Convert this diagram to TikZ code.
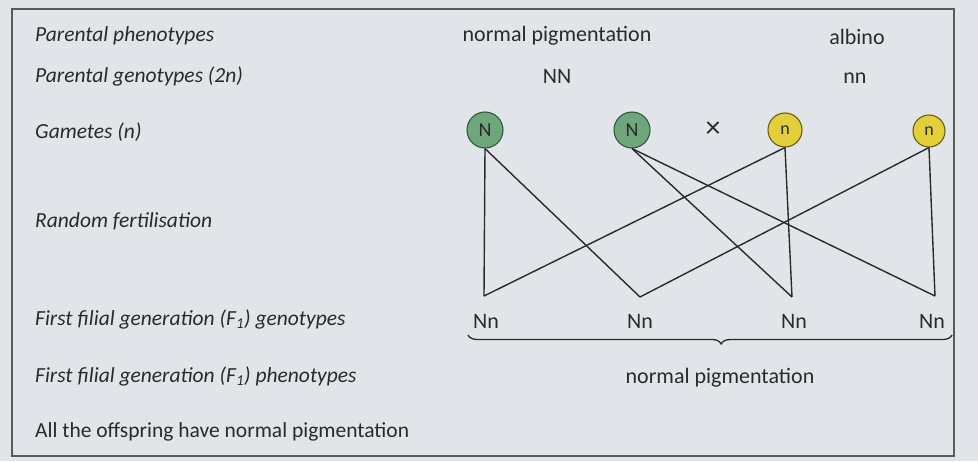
\documentclass[tikz,border=0pt]{standalone}
\usepackage{fontspec}
\setmainfont{Carlito}
\usetikzlibrary{decorations.pathreplacing}
\definecolor{bg}{HTML}{E1E5E9}
\definecolor{ink}{HTML}{2A2A2A}
\definecolor{frame}{HTML}{5A5A5A}
\definecolor{gfill}{HTML}{6FA67C}
\definecolor{gline}{HTML}{2F5A3A}
\definecolor{yfill}{HTML}{E2CF3A}
\definecolor{yline}{HTML}{6A5E10}
\tikzset{
  lab/.style={anchor=west, font=\fontsize{21.5}{24}\selectfont\itshape, text=ink, inner sep=0pt},
  txt/.style={font=\fontsize{22}{24}\selectfont, text=ink, inner sep=0pt},
  gN/.style={circle, draw=gline, fill=gfill, line width=1.1pt, minimum size=36pt, inner sep=0pt, font=\fontsize{20}{22}\selectfont, text=ink},
  gn/.style={circle, draw=yline, fill=yfill, line width=1.1pt, minimum size=34pt, inner sep=0pt, font=\fontsize{18}{20}\selectfont, text=ink},
  link/.style={draw=ink, line width=1.4pt},
}
\begin{document}
\begin{tikzpicture}[x=1pt,y=1pt]
\useasboundingbox (0,0) rectangle (978,-461);
\fill[bg] (0,0) rectangle (978,-461);
\draw[frame, line width=1.3pt] (12,-9) rectangle (954,-456);

% left labels
\node[lab] (l1) at (35,-36) {Parental phenotypes};
\node[lab] (l2) at (35,-76) {Parental genotypes (2\textit{n})};
\node[lab] (l3) at (35,-132) {Gametes (\textit{n})};
\node[lab] (l4) at (35,-221) {Random fertilisation};
\node[lab] (l5) at (35,-319) {First filial generation (F\textsubscript{1}) genotypes};
\node[lab] (l6) at (35,-376) {First filial generation (F\textsubscript{1}) phenotypes};
\node[lab, font=\fontsize{21.5}{24}\selectfont\upshape] (l7) at (35,-432) {All the offspring have normal pigmentation};

% parents
\node[txt] (p1) at (557,-36) {normal pigmentation};
\node[txt] (p2) at (857,-37) {albino};
\node[txt] (g1t) at (557,-76) {NN};
\node[txt] (g2t) at (855,-78) {nn};

% gametes
\node[gN] (g1) at (485,-130) {N};
\node[gN] (g2) at (632,-130) {N};
\node[txt, font=\fontsize{30}{30}\selectfont] (x) at (713,-130) {×};
\node[gn] (g3) at (785,-130) {n};
\node[gn, minimum size=32pt] (g4) at (929,-131) {n};

% offspring junctions
\coordinate (t1) at (484,-296);
\coordinate (t2) at (640,-297);
\coordinate (t3) at (792,-297);
\coordinate (t4) at (935,-296);

\draw[link] (g1.south) -- (t1);
\draw[link] (g1.south) -- (t2);
\draw[link] (g2.south) -- (t3);
\draw[link] (g2.south) -- (t4);
\draw[link] (g3.south) -- (t1);
\draw[link] (g3.south) -- (t3);
\draw[link] (g4.south) -- (t2);
\draw[link] (g4.south) -- (t4);

% offspring
\node[txt] (o1) at (486,-321) {Nn};
\node[txt] (o2) at (640,-321) {Nn};
\node[txt] (o3) at (794,-321) {Nn};
\node[txt] (o4) at (932,-321) {Nn};

\coordinate (b1) at (468,-335);
\coordinate (b2) at (952,-335);
\draw[ink, line width=1.3pt, decorate, decoration={brace, mirror, amplitude=9pt, aspect=0.523}] (b1) -- (b2);
\node[txt] (ph) at (720,-378) {normal pigmentation};
\end{tikzpicture}
\end{document}
